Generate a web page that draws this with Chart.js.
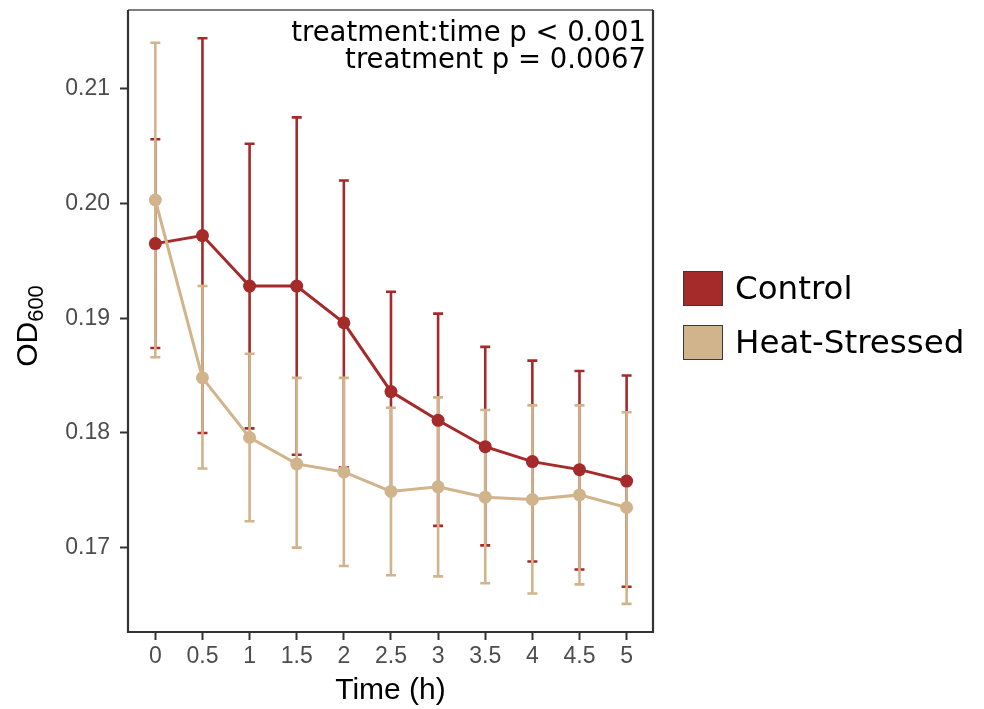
<!DOCTYPE html>
<html>
<head>
<meta charset="utf-8">
<script src="https://cdn.jsdelivr.net/npm/chart.js@4.4.1/dist/chart.umd.min.js"></script>
<style>
  body { margin: 0; background: #fff; }
  #wrap { position: relative; width: 984px; height: 709px; }
  .key { position: absolute; left: 683px; width: 38px; height: 33px; border: 1.5px solid #3a3a3a; }
  .lab { position: absolute; left: 735px; font: 32.5px "DejaVu Sans", sans-serif; color: #000; line-height: 36px; }
</style>
</head>
<body>
<div id="wrap">
  <canvas id="c" width="984" height="709"></canvas>
  <div class="key" style="top:271px;background:#A52A2A"></div>
  <div class="lab" style="top:270px">Control</div>
  <div class="key" style="top:325px;background:#D2B48C"></div>
  <div class="lab" style="top:324px">Heat-Stressed</div>
</div>
<script>
const times = [0, 0.5, 1, 1.5, 2, 2.5, 3, 3.5, 4, 4.5, 5];
const xTickLabels = ["0", "0.5", "1", "1.5", "2", "2.5", "3", "3.5", "4", "4.5", "5"];
const yTicks = [0.17, 0.18, 0.19, 0.20, 0.21];
const yTickLabels = ["0.17", "0.18", "0.19", "0.20", "0.21"];

const controlMean  = [0.1965, 0.1972, 0.1928, 0.1928, 0.1896, 0.1836, 0.1811, 0.1788, 0.1775, 0.1768, 0.1758];
const controlUpper = [0.2056, 0.2144, 0.2052, 0.2075, 0.2020, 0.1923, 0.1904, 0.1875, 0.1863, 0.1854, 0.1850];
const controlLower = [0.1874, 0.1800, 0.1804, 0.1781, 0.1770, 0.1748, 0.1719, 0.1702, 0.1688, 0.1681, 0.1666];

const heatMean  = [0.2003, 0.1848, 0.1796, 0.1773, 0.1766, 0.1749, 0.1753, 0.1744, 0.1742, 0.1746, 0.1735];
const heatUpper = [0.2140, 0.1928, 0.1869, 0.1848, 0.1848, 0.1822, 0.1831, 0.1820, 0.1824, 0.1824, 0.1818];
const heatLower = [0.1866, 0.1769, 0.1723, 0.1700, 0.1684, 0.1676, 0.1675, 0.1669, 0.1660, 0.1668, 0.1651];

const notes = ["treatment:time p < 0.001", "treatment p = 0.0067"];

const RED = "#A52A2A";
const TAN = "#D2B48C";

const toPoints = (ys) => times.map((t, i) => ({ x: t, y: ys[i] }));

// error bars go under the lines and points, red first then tan
const errorBars = {
  id: "errorBars",
  beforeDatasetsDraw(chart) {
    const { ctx, scales: { x, y } } = chart;
    const groups = [
      { color: RED, lo: controlLower, hi: controlUpper },
      { color: TAN, lo: heatLower, hi: heatUpper },
    ];
    ctx.save();
    ctx.lineWidth = 2.6;
    for (const g of groups) {
      ctx.strokeStyle = g.color;
      times.forEach((t, i) => {
        const px = x.getPixelForValue(t);
        const top = y.getPixelForValue(g.hi[i]);
        const bot = y.getPixelForValue(g.lo[i]);
        ctx.beginPath();
        ctx.moveTo(px, top); ctx.lineTo(px, bot);
        ctx.moveTo(px - 5, top); ctx.lineTo(px + 5, top);
        ctx.moveTo(px - 5, bot); ctx.lineTo(px + 5, bot);
        ctx.stroke();
      });
    }
    ctx.restore();
  },
};

const frame = {
  id: "frame",
  afterDraw(chart) {
    const { ctx, chartArea: a } = chart;
    ctx.save();
    // panel border
    ctx.strokeStyle = "#555";
    ctx.lineWidth = 1.5;
    ctx.beginPath();
    ctx.moveTo(a.left, a.top); ctx.lineTo(a.right, a.top);
    ctx.stroke();
    ctx.strokeStyle = "#333";
    ctx.lineWidth = 2.2;
    ctx.beginPath();
    ctx.moveTo(a.right, a.top); ctx.lineTo(a.right, a.bottom);
    ctx.lineTo(a.left, a.bottom); ctx.lineTo(a.left, a.top);
    ctx.stroke();

    // annotation, top right
    ctx.fillStyle = "#000";
    ctx.font = '27.5px "DejaVu Sans"';
    ctx.textAlign = "right";
    ctx.textBaseline = "alphabetic";
    ctx.fillText(notes[0], a.right - 7, 41);
    ctx.fillText(notes[1], a.right - 7, 68);

    // y title with subscript
    const cy = 326;
    ctx.translate(37, cy);
    ctx.rotate(-Math.PI / 2);
    ctx.textAlign = "left";
    ctx.font = '30px "Liberation Sans"';
    const w1 = ctx.measureText("OD").width;
    ctx.font = '22px "Liberation Sans"';
    const w2 = ctx.measureText("600").width;
    const start = -(w1 + w2) / 2;
    ctx.font = '30px "Liberation Sans"';
    ctx.fillText("OD", start, 0);
    ctx.font = '22px "Liberation Sans"';
    ctx.fillText("600", start + w1, 6);
    ctx.restore();
  },
};

new Chart(document.getElementById("c"), {
  type: "line",
  data: {
    datasets: [
      {
        label: "Control",
        data: toPoints(controlMean),
        borderColor: RED,
        backgroundColor: RED,
        borderWidth: 3,
        pointRadius: 6.5,
        pointBorderWidth: 0,
        order: 2,
      },
      {
        label: "Heat-Stressed",
        data: toPoints(heatMean),
        borderColor: TAN,
        backgroundColor: TAN,
        borderWidth: 3,
        pointRadius: 6.5,
        pointBorderWidth: 0,
        order: 1,
      },
    ],
  },
  options: {
    responsive: false,
    animation: false,
    layout: { padding: { left: 0, top: 10, right: 331, bottom: 0 } },
    plugins: {
      legend: { display: false },
      tooltip: { enabled: false },
    },
    scales: {
      x: {
        type: "linear",
        min: -0.29,
        max: 5.28,
        afterBuildTicks: (s) => { s.ticks = times.map((v) => ({ value: v })); },
        afterFit: (s) => { s.height = 77; s.paddingLeft = 0; s.paddingRight = 0; },
        border: { display: false },
        grid: { drawOnChartArea: false, tickLength: 8, tickWidth: 2, tickColor: "#333" },
        ticks: {
          padding: 3,
          color: "#4d4d4d",
          font: { family: "Liberation Sans", size: 23 },
          callback: (v) => xTickLabels[times.indexOf(v)],
          maxRotation: 0,
        },
        title: {
          display: true,
          text: "Time (h)",
          color: "#000",
          font: { family: "Liberation Sans", size: 30 },
          padding: 0,
        },
      },
      y: {
        min: 0.16265,
        max: 0.21686,
        afterBuildTicks: (s) => { s.ticks = yTicks.map((v) => ({ value: v })); },
        afterFit: (s) => { s.width = 128; s.paddingTop = 0; s.paddingBottom = 0; },
        border: { display: false },
        grid: { drawOnChartArea: false, tickLength: 8, tickWidth: 2, tickColor: "#333" },
        ticks: {
          padding: 10,
          color: "#4d4d4d",
          font: { family: "Liberation Sans", size: 23 },
          callback: (v) => yTickLabels[yTicks.indexOf(v)],
        },
      },
    },
  },
  plugins: [errorBars, frame],
});
</script>
</body>
</html>
